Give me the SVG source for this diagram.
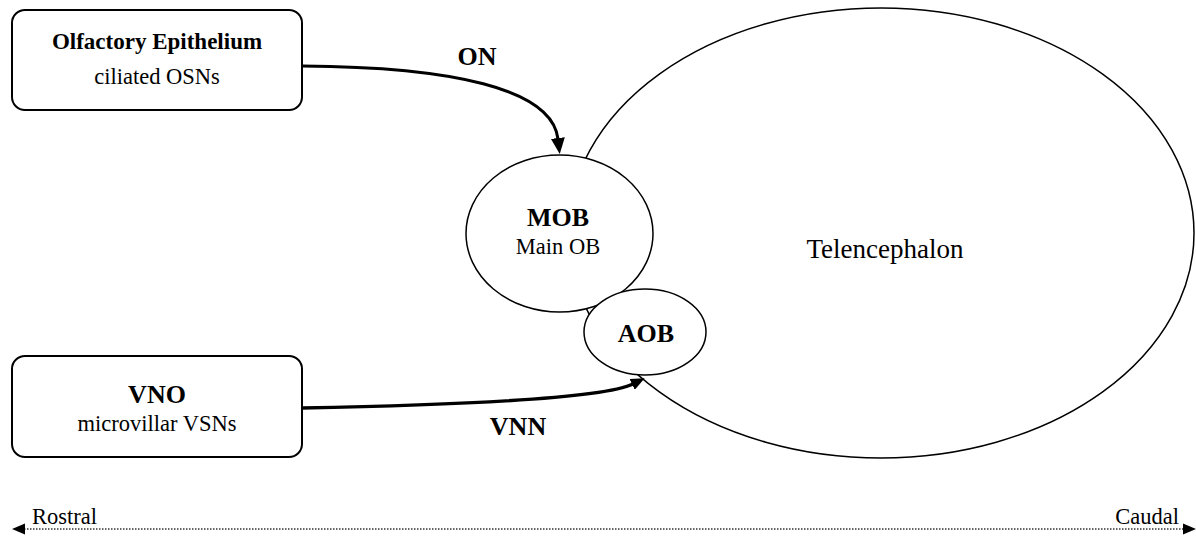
<svg xmlns="http://www.w3.org/2000/svg" width="1196" height="538" viewBox="0 0 1196 538">
<style>
.box{fill:#fff;stroke:#000;stroke-width:2}
.ell{fill:#fff;stroke:#000;stroke-width:1.5}
.b{font-weight:bold;font-size:26px;text-anchor:middle;fill:#000}
.r{font-size:22.5px;text-anchor:middle;fill:#000}
.conn{fill:none;stroke:#000}
</style>
<defs>
<marker id="ah" markerWidth="16" markerHeight="14" refX="1" refY="7" orient="auto" markerUnits="userSpaceOnUse" viewBox="0 0 16 14">
<path d="M0,0 L16,7 L0,14 Z" fill="#000"/>
</marker>
<marker id="ah2" markerWidth="14" markerHeight="12" refX="1" refY="6" orient="auto" markerUnits="userSpaceOnUse" viewBox="0 0 14 12">
<path d="M0,0 L14,6 L0,12 Z" fill="#000"/>
</marker>
</defs>
<rect width="1196" height="538" fill="#fff"/>
<g id="telencephalon">
<ellipse class="ell" cx="881" cy="233" rx="313" ry="225"/>
<text class="r" x="885" y="258" font-family="Liberation Serif" style="font-size:27px">Telencephalon</text>
</g>
<g id="mob">
<ellipse class="ell" cx="559.5" cy="233.5" rx="93.5" ry="78.5"/>
<text class="b" x="558" y="226" font-family="Liberation Serif">MOB</text>
<text class="r" x="558" y="254" font-family="Liberation Serif">Main OB</text>
</g>
<g id="aob">
<ellipse class="ell" cx="645" cy="332" rx="61" ry="43"/>
<text class="b" x="646" y="342" font-family="Liberation Serif">AOB</text>
</g>
<g id="olfactory-epithelium">
<rect class="box" x="12" y="10" width="290" height="100" rx="13"/>
<text class="b" x="157" y="49" font-family="Liberation Serif" style="font-size:23px">Olfactory Epithelium</text>
<text class="r" x="157" y="84" font-family="Liberation Serif">ciliated OSNs</text>
</g>
<g id="vno">
<rect class="box" x="12" y="356" width="290" height="101" rx="13"/>
<text class="b" x="157" y="403" font-family="Liberation Serif">VNO</text>
<text class="r" x="157" y="431" font-family="Liberation Serif">microvillar VSNs</text>
</g>
<g id="connectors">
<path class="conn" d="M302,66 C450,67 552,88 558,139" stroke-width="3" marker-end="url(#ah)"/>
<path class="conn" d="M302,408 C460,405 602,399 633,384" stroke-width="3.5" marker-end="url(#ah2)"/>
<text class="b" x="477" y="65" font-family="Liberation Serif">ON</text>
<text class="b" x="518" y="435" font-family="Liberation Serif">VNN</text>
</g>
<g id="axis">
<line x1="24" y1="529" x2="1185" y2="529" stroke="#333" stroke-width="1.5" stroke-dasharray="1.5 1.5"/>
<path d="M12,529 L25,523.5 L25,534.5 Z" fill="#000"/>
<path d="M1196,529 L1183,523.5 L1183,534.5 Z" fill="#000"/>
<text class="r" x="32" y="524" font-family="Liberation Serif" style="text-anchor:start">Rostral</text>
<text class="r" x="1179" y="524" font-family="Liberation Serif" style="text-anchor:end">Caudal</text>
</g>
</svg>
